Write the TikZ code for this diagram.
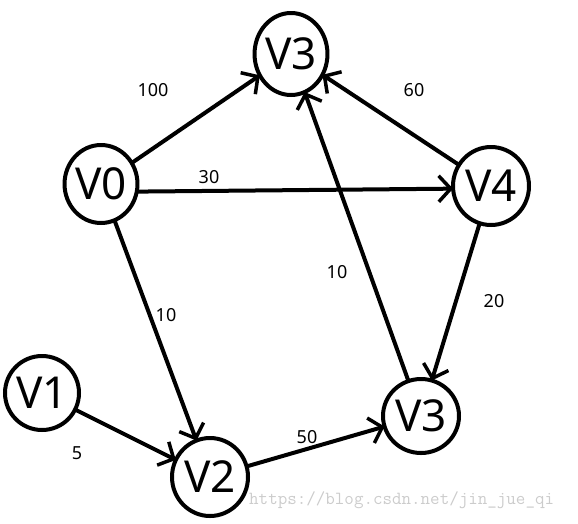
\documentclass[tikz,border=0pt]{standalone}
\usepackage{fontspec}
\setmainfont{Noto Sans}
\usetikzlibrary{arrows.meta,shapes.geometric}
\begin{document}
\begin{tikzpicture}[x=1pt,y=-1pt,
  vert/.style={ellipse,draw=black,line width=4pt,inner sep=0pt,outer sep=0pt,
    font=\fontsize{44}{44}\selectfont},
  edge/.style={line width=4pt,-{Straight Barb[length=12pt,width=26pt,line width=3.5pt]}},
  wt/.style={font=\fontsize{18}{18}\selectfont,inner sep=0pt},
  wm/.style={font=\ttfamily\fontsize{18.5}{18.5}\selectfont,text=black!20,inner sep=0pt,anchor=west}]
\useasboundingbox (0,0) rectangle (578,523);
\node[vert,minimum width=72pt,minimum height=82pt] (V3t) at (291,54) {V3};
\node[vert,minimum width=72pt,minimum height=78pt] (V0) at (101,184) {V0};
\node[vert,minimum width=76pt,minimum height=78pt] (V4) at (491,186) {V4};
\node[vert,minimum width=74pt,minimum height=74pt] (V1) at (42,393) {V1};
\node[vert,minimum width=76pt,minimum height=78pt] (V2) at (210,477) {V2};
\node[vert,minimum width=76pt,minimum height=74pt] (V3b) at (421,416) {V3};
\draw[edge] (V0) -- (V3t);
\draw[edge] (V0.-12) -- (V4.184);
\draw[edge] (V4) -- (V3t);
\draw[edge] (V0) -- (V2);
\draw[edge] (V1) -- (V2);
\draw[edge] (V2) -- (V3b);
\draw[edge] (V4) -- (V3b);
\draw[edge] (V3b) -- (V3t);
\node[wt] (w100) at (153,90) {100};
\node[wt] (w60) at (414,90) {60};
\node[wt] (w30) at (209,177) {30};
\node[wt] (w10a) at (166,315) {10};
\node[wt] (w10b) at (337,272) {10};
\node[wt] (w20) at (494,301) {20};
\node[wt] (w5) at (77,453) {5};
\node[wt] (w50) at (307,437) {50};
\node[wm] (wmark) at (249,500) {https://blog.csdn.net/jin\_jue\_qi};
\end{tikzpicture}
\end{document}
